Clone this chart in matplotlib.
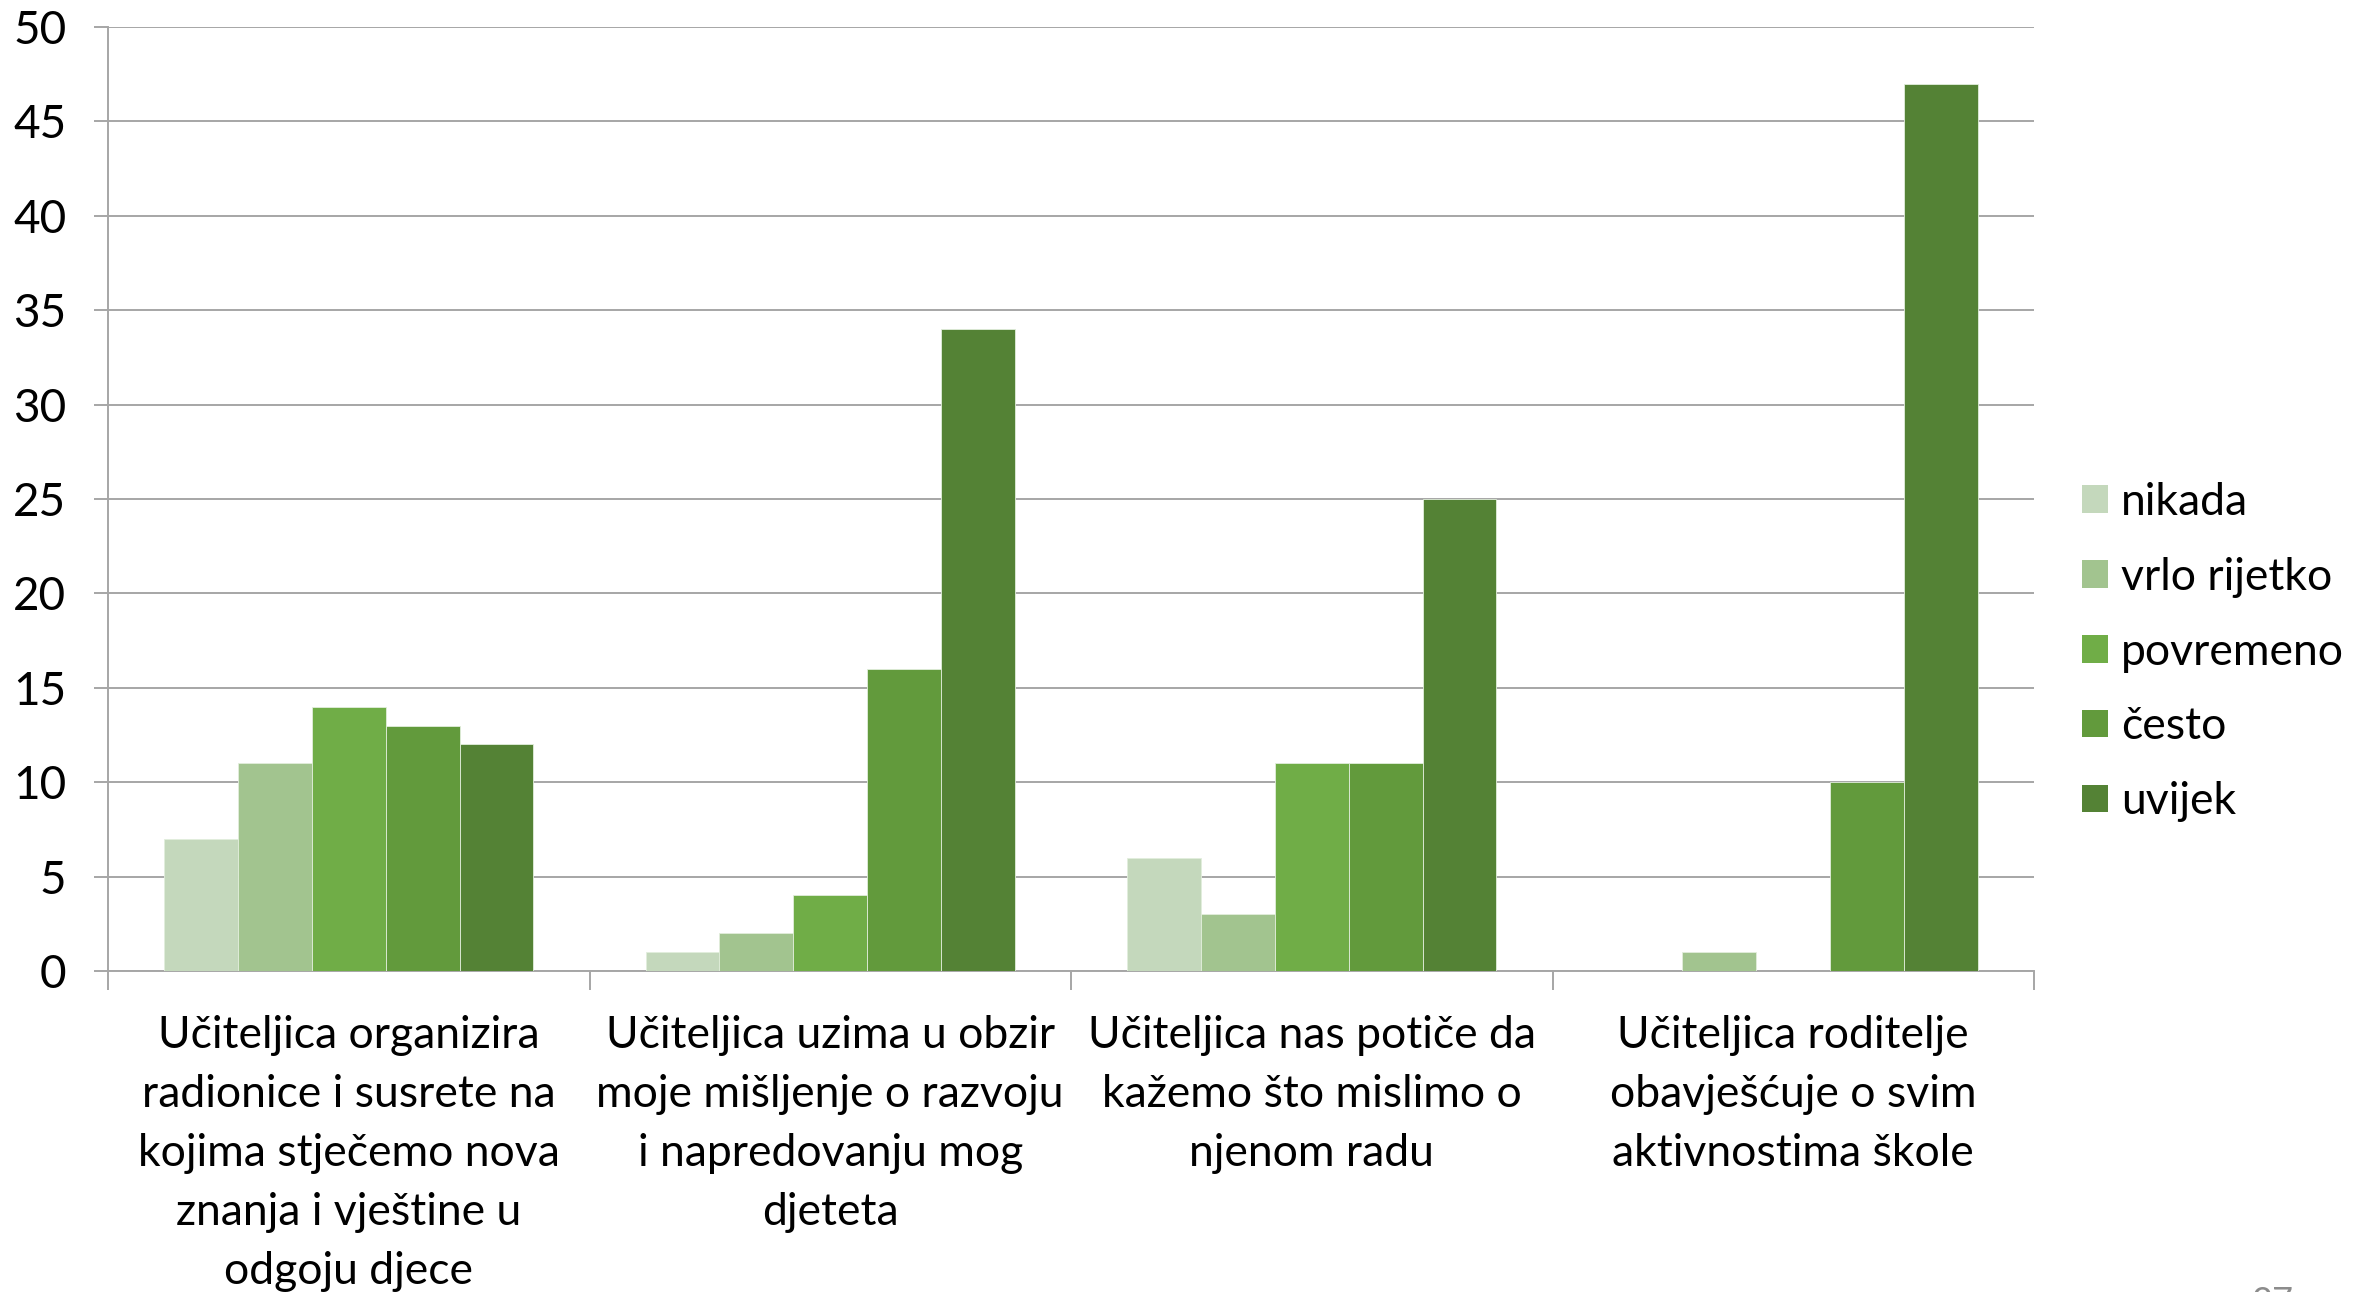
import matplotlib
matplotlib.use("Agg")
import matplotlib.pyplot as plt
from matplotlib.patches import Patch
import numpy as np

plt.rcParams['font.family'] = ['Lato', 'DejaVu Sans']

# ---- data ----
categories = [
    "Učiteljica organizira\nradionice i susrete na\nkojima stječemo nova\nznanja i vještine u\nodgoju djece",
    "Učiteljica uzima u obzir\nmoje mišljenje o razvoju\ni napredovanju mog\ndjeteta",
    "Učiteljica nas potiče da\nkažemo što mislimo o\nnjenom radu",
    "Učiteljica roditelje\nobavješćuje o svim\naktivnostima škole",
]
series_names = ["nikada", "vrlo rijetko", "povremeno", "često", "uvijek"]
nikada = [7, 1, 6, 0]
vrlo_rijetko = [11, 2, 3, 1]
povremeno = [14, 4, 11, 0]
cesto = [13, 16, 11, 10]
uvijek = [12, 34, 25, 47]
series_values = [nikada, vrlo_rijetko, povremeno, cesto, uvijek]
colors = ["#C4D8BC", "#A2C48F", "#70AD47", "#629A3C", "#548235"]
y_ticks = [0, 5, 10, 15, 20, 25, 30, 35, 40, 45, 50]

W, H = 2354, 1292
fig = plt.figure(figsize=(W / 100, H / 100), dpi=100)
ax = fig.add_axes([108 / W, 1 - 971 / H, (2034 - 108) / W, (971 - 27) / H])

grid_c = "#A6A6A6"
n = len(series_names)
bw = 1 / (n + 1.52)
x = np.arange(len(categories))
for i, (name, vals) in enumerate(zip(series_names, series_values)):
    ax.bar(x + (i - (n - 1) / 2) * bw, vals, width=bw, color=colors[i],
           edgecolor="#E2EEDC", linewidth=0.6, label=name, zorder=3)

ax.set_xlim(-0.5, len(categories) - 0.5)
ax.set_ylim(0, 50)
ax.set_yticks(y_ticks)
ax.yaxis.grid(True, color=grid_c, linewidth=1.4, zorder=0)
ax.tick_params(axis='y', length=10, width=1.4, color=grid_c, pad=20,
               labelsize=33)

# category boundaries as major ticks, labels on minor ticks
ax.set_xticks(np.arange(len(categories) + 1) - 0.5)
ax.set_xticklabels([])
ax.set_xticks(x, minor=True)
ax.set_xticklabels(categories, minor=True, fontsize=32, linespacing=1.54)
ax.tick_params(axis='x', which='major', length=14, width=1.4, color=grid_c)
ax.tick_params(axis='x', which='minor', length=0, pad=32)

for s in ['top', 'right']:
    ax.spines[s].set_visible(False)
for s in ['left', 'bottom']:
    ax.spines[s].set_color(grid_c)
    ax.spines[s].set_linewidth(1.4)

handles = [Patch(facecolor=c, edgecolor='none') for c in colors]
fig.legend(handles, series_names, loc='center left',
           bbox_to_anchor=(2042 / W, 1 - 652 / H), frameon=False,
           fontsize=32, handlelength=0.58, handleheight=0.58,
           handletextpad=0.3, labelspacing=0.76)

fig.text(2272 / W, 6 / H, "27", color="#8C8C8C", fontsize=26,
         ha='center', va='top')

fig.savefig("out.png", dpi=100)
